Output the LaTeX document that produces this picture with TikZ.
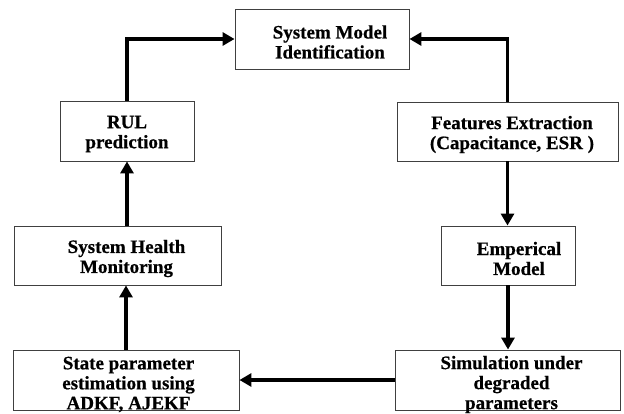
\documentclass[tikz,border=0pt]{standalone}
\usepackage{fontspec}
\setmainfont{Liberation Serif}[BoldFeatures={FakeBold=0.6}]
\usetikzlibrary{arrows.meta}

\tikzset{
  block/.style={draw=black!75, line width=0.9pt, fill=white, inner sep=0pt},
  blocktext/.style={font=\bfseries\fontsize{19}{20}\selectfont, align=center, inner sep=0pt, yshift=-3pt},
  flow/.style={line width=3.5pt, -{Triangle[width=13pt,length=12pt]}},
}

\begin{document}
\begin{tikzpicture}[x=1pt,y=1pt]
  \useasboundingbox (0,0) rectangle (624,413);

  % process blocks
  \node[block, minimum width=174pt, minimum height=60pt,
        label={[blocktext, xshift=8pt]center:{System Model\\Identification}}]
        (ident) at (322,374) {};
  \node[block, minimum width=134pt, minimum height=60pt,
        label={[blocktext]center:{RUL\\prediction}}]
        (rul) at (127,282) {};
  \node[block, minimum width=221pt, minimum height=59pt,
        label={[blocktext, xshift=4.5pt]center:{Features Extraction\\(Capacitance, ESR )}}]
        (feat) at (507.5,281.5) {};
  \node[block, minimum width=207pt, minimum height=59pt,
        label={[blocktext, xshift=9pt]center:{System Health\\Monitoring}}]
        (health) at (117.5,157.5) {};
  \node[block, minimum width=134pt, minimum height=59pt,
        label={[blocktext, xshift=11pt]center:{Emperical\\Model}}]
        (emp) at (508,157.5) {};
  \node[block, minimum width=226pt, minimum height=60pt,
        label={[blocktext, xshift=2.5pt, yshift=-1.5pt]center:{State parameter\\estimation using\\ADKF, AJEKF}}]
        (state) at (126,33) {};
  \node[block, minimum width=225pt, minimum height=60pt,
        label={[blocktext, xshift=4pt, yshift=-1.5pt]center:{Simulation under\\degraded\\parameters}}]
        (sim) at (507.5,33) {};

  % connectors
  \draw[flow] (state.north) -- (state.north |- health.south);
  \draw[flow] (rul.south |- health.north) -- (rul.south);
  \draw[flow] (rul.north) |- (ident.west);
  \draw[flow] (feat.north) |- (ident.east);
  \draw[flow] (feat.south) -- (feat.south |- emp.north);
  \draw[flow] (emp.south) -- (emp.south |- sim.north);
  \draw[flow] (sim.west) -- (state.east);
\end{tikzpicture}
\end{document}
